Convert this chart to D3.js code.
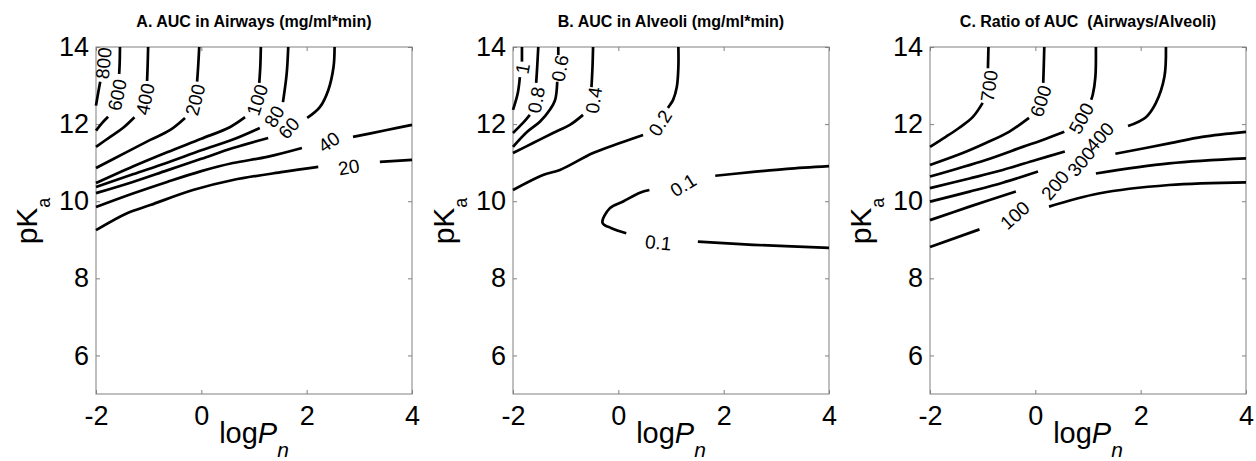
<!DOCTYPE html>
<html>
<head>
<meta charset="utf-8">
<script src="https://cdn.jsdelivr.net/npm/d3@7"></script>
<style>
body { margin: 0; background: #fff; }
text { font-family: "Liberation Sans", Arial, sans-serif; }
</style>
</head>
<body>
<div id="plot"></div>
<script>
// axes
var xDomain = [-2, 4],
    yDomain = [5, 14],
    xTicks = [-2, 0, 2, 4],
    yTicks = [6, 8, 10, 12, 14];

var titles = [
    "A. AUC in Airways (mg/ml*min)",
    "B. AUC in Alveoli (mg/ml*min)",
    "C. Ratio of AUC  (Airways/Alveoli)"
];

// contour lines: [logPn, pKa], broken where the labels sit
var contoursA = [
    {level: "800", segs: [[[-1.92, 13.1], [-1.96, 12.8], [-2, 12.48]]],
        labels: [{at: [-1.86, 13.58], rot: -85}]},
    {level: "600", segs: [[[-1.545, 14], [-1.55, 13.6], [-1.56, 13.3]],
                          [[-1.77, 12.19], [-1.89, 12.02], [-2, 11.83]]],
        labels: [{at: [-1.6, 12.76], rot: -78}]},
    {level: "400", segs: [[[-1.01, 14], [-1.02, 13.5], [-1.03, 13.12]],
                          [[-1.27, 12.18], [-1.49, 11.9], [-1.73, 11.67], [-2, 11.41]]],
        labels: [{at: [-1.07, 12.65], rot: -78}]},
    {level: "200", segs: [[[-0.04, 14], [-0.06, 13.5], [-0.08, 13.1]],
                          [[-0.31, 12.16], [-0.59, 11.85], [-0.97, 11.59], [-1.41, 11.28], [-2, 10.86]]],
        labels: [{at: [-0.12, 12.63], rot: -76}]},
    {level: "100", segs: [[[1.13, 14], [1.12, 13.5], [1.1, 13.07]],
                          [[0.83, 12.18], [0.54, 11.92], [0, 11.62], [-0.65, 11.27], [-1.3, 10.9], [-2, 10.47]]],
        labels: [{at: [1.06, 12.63], rot: -72}]},
    {level: "80", segs: [[[1.65, 14], [1.62, 13.3], [1.55, 12.57]],
                         [[1.11, 11.9], [0.6, 11.6], [0, 11.32], [-0.65, 11.0], [-1.3, 10.7], [-2, 10.37]]],
        labels: [{at: [1.38, 12.2], rot: -60}]},
    {level: "60", segs: [[[2.53, 14], [2.51, 13.48], [2.41, 12.88], [2.25, 12.44], [2.01, 12.16]],
                         [[1.27, 11.64], [0.6, 11.38], [0, 11.1], [-0.65, 10.8], [-1.3, 10.5], [-2, 10.21]]],
        labels: [{at: [1.66, 11.9], rot: -48}]},
    {level: "40", segs: [[[2.88, 11.67], [3.5, 11.84], [4, 11.98]],
                         [[1.91, 11.38], [1.25, 11.15], [0.6, 10.99], [0, 10.78], [-0.65, 10.5], [-1.3, 10.2], [-2, 9.85]]],
        labels: [{at: [2.42, 11.54], rot: -35}]},
    {level: "20", segs: [[[3.39, 11.02], [4, 11.07]],
                         [[2.22, 10.89], [1.55, 10.76], [0.6, 10.55], [-0.16, 10.29], [-0.97, 9.9], [-1.41, 9.69], [-2, 9.25]]],
        labels: [{at: [2.8, 10.89], rot: -10}]}
];

var contoursB = [
    {level: "1", segs: [[[-1.83, 14], [-1.83, 13.62]],
                        [[-1.87, 13.22], [-1.91, 12.8], [-2, 12.37]]],
        labels: [{at: [-1.82, 13.44], rot: -80}]},
    {level: "0.8", segs: [[[-1.52, 14], [-1.54, 13.5], [-1.56, 13.07]],
                          [[-1.68, 12.24], [-1.81, 12.03], [-2, 11.77]]],
        labels: [{at: [-1.56, 12.63], rot: -80}]},
    {level: "0.6", segs: [[[-1.14, 14], [-1.14, 13.79]],
                          [[-1.16, 13.1], [-1.2, 12.63], [-1.3, 12.37], [-1.49, 12.06], [-1.73, 11.8], [-2, 11.41]]],
        labels: [{at: [-1.11, 13.45], rot: -80}]},
    {level: "0.4", segs: [[[-0.48, 14], [-0.49, 13.5], [-0.51, 12.96]],
                          [[-0.67, 12.24], [-0.92, 11.98], [-1.24, 11.77], [-1.62, 11.51], [-2, 11.25]]],
        labels: [{at: [-0.47, 12.62], rot: -82}]},
    {level: "0.2", segs: [[[1.14, 14], [1.14, 13.48], [1.11, 12.96], [1.04, 12.63], [0.94, 12.42]],
                          [[0.47, 11.72], [0.03, 11.51], [-0.48, 11.25], [-1.11, 10.81], [-1.43, 10.68], [-2, 10.29]]],
        labels: [{at: [0.79, 12.03], rot: -58}]},
    {level: "0.1", segs: [[[4, 10.91], [3.2, 10.84], [2.56, 10.76], [1.84, 10.66]],
                          [[0.59, 10.29], [0.41, 10.22], [0.1, 10.0], [-0.16, 9.82], [-0.3, 9.44], [-0.13, 9.3], [0.15, 9.17]],
                          [[1.51, 8.95], [2.56, 8.87], [4, 8.79]]],
        labels: [{at: [1.23, 10.42], rot: -32}, {at: [0.76, 8.93], rot: 6}]}
];

var contoursC = [
    {level: "700", segs: [[[-0.89, 14], [-0.9, 13.45]],
                          [[-1.0, 12.55], [-1.19, 12.18], [-1.45, 11.9], [-1.7, 11.67], [-2, 11.41]]],
        labels: [{at: [-0.88, 12.99], rot: -82}]},
    {level: "600", segs: [[[0.17, 14], [0.16, 13.5], [0.15, 13.07]],
                          [[-0.12, 12.16], [-0.5, 11.8], [-0.94, 11.51], [-1.38, 11.25], [-2, 10.94]]],
        labels: [{at: [0.1, 12.6], rot: -72}]},
    {level: "500", segs: [[[1.15, 14], [1.14, 13.22], [1.09, 12.76], [1.06, 12.63]],
                          [[0.55, 11.8], [0.14, 11.59], [-0.24, 11.41], [-0.94, 11.07], [-2, 10.64]]],
        labels: [{at: [0.87, 12.15], rot: -62}]},
    {level: "400", segs: [[[2.48, 14], [2.45, 13.22], [2.29, 12.55], [2.1, 12.18], [1.76, 11.95]],
                          [[0.56, 11.29], [0.01, 11.07], [-0.62, 10.81], [-1.25, 10.59], [-2, 10.34]]],
        labels: [{at: [1.22, 11.67], rot: -48}]},
    {level: "300", segs: [[[-2, 9.99], [-1.25, 10.25], [-0.62, 10.48], [0.05, 10.77]],
                          [[1.52, 11.23], [2.54, 11.5], [3.17, 11.67], [4, 11.8]]],
        labels: [{at: [0.87, 11.03], rot: -50}]},
    {level: "200", segs: [[[-2, 9.51], [-1.25, 9.86], [-0.37, 10.25]],
                          [[1.15, 10.72], [2.54, 10.98], [4, 11.11]]],
        labels: [{at: [0.37, 10.42], rot: -50}]},
    {level: "100", segs: [[[-2, 8.81], [-1.06, 9.27]],
                          [[0.26, 9.86], [1.2, 10.2], [2.54, 10.42], [4, 10.49]]],
        labels: [{at: [-0.39, 9.64], rot: -42}]}
];

var view = {
    lefts: [96, 513, 930],
    top: 47,
    w: 316,
    h: 347
};

var svg = d3.select("#plot")
            .append("svg")
            .attr("width", 1256)
            .attr("height", 461);

function drawPanel(i, contours) {
    var g = svg.append("g")
               .attr("transform", "translate(" + view.lefts[i] + "," + view.top + ")");

    var xScale = d3.scaleLinear().domain(xDomain).range([0, view.w]),
        yScale = d3.scaleLinear().domain(yDomain).range([view.h, 0]);

    // box ticks: labelled on bottom/left, bare on top/right
    var axes = [
        {axis: d3.axisBottom(xScale).tickValues(xTicks), tr: "translate(0," + view.h + ")", lab: true, pad: 12},
        {axis: d3.axisLeft(yScale).tickValues(yTicks), tr: "translate(0,0)", lab: true, pad: 7},
        {axis: d3.axisTop(xScale).tickValues(xTicks), tr: "translate(0,0)", lab: false, pad: 7},
        {axis: d3.axisRight(yScale).tickValues(yTicks), tr: "translate(" + view.w + ",0)", lab: false, pad: 7}
    ];
    axes.forEach(function(a){
        a.axis.tickSizeInner(-4).tickSizeOuter(0).tickPadding(a.pad)
              .tickFormat(a.lab ? function(d){ return String(d); } : "");
        var ag = g.append("g").attr("transform", a.tr).call(a.axis);
        ag.select(".domain").remove();
        ag.selectAll(".tick line").attr("stroke", "#808080");
        ag.selectAll(".tick text")
          .attr("fill", "#000")
          .style("font-size", "27px")
          .style("font-family", "'Liberation Sans', Arial, sans-serif");
    });

    g.append("rect")
     .attr("x", 0).attr("y", 0)
     .attr("width", view.w).attr("height", view.h)
     .attr("fill", "none")
     .attr("stroke", "#808080")
     .attr("stroke-width", 1);

    var line = d3.line()
                 .x(function(d){ return xScale(d[0]); })
                 .y(function(d){ return yScale(d[1]); })
                 .curve(d3.curveCatmullRom.alpha(0.5));

    contours.forEach(function(c){
        g.selectAll(null)
         .data(c.segs)
         .enter().append("path")
         .attr("d", line)
         .attr("fill", "none")
         .attr("stroke", "#000")
         .attr("stroke-width", 2.7);

        g.selectAll(null)
         .data(c.labels)
         .enter().append("text")
         .attr("transform", function(d){
             return "translate(" + xScale(d.at[0]) + "," + yScale(d.at[1]) + ") rotate(" + d.rot + ")";
         })
         .attr("text-anchor", "middle")
         .attr("dy", "0.36em")
         .style("font-size", "19px")
         .text(c.level);
    });

    // title
    svg.append("text")
       .attr("x", view.lefts[i] + view.w / 2)
       .attr("y", 27)
       .attr("text-anchor", "middle")
       .style("font-size", "16px")
       .style("font-weight", "bold")
       .style("white-space", "pre")
       .text(titles[i]);

    // x label: log P_n
    var xl = svg.append("text")
                .attr("x", view.lefts[i] + view.w / 2)
                .attr("y", 443)
                .attr("text-anchor", "middle")
                .style("font-size", "29px");
    xl.append("tspan").text("log");
    xl.append("tspan").style("font-style", "italic").text("P");
    xl.append("tspan").style("font-style", "italic").style("font-size", "21px")
      .attr("dy", 14).text("n");

    // y label: pK_a
    var yl = svg.append("text")
                .attr("transform", "translate(" + (view.lefts[i] - 59) + ",221) rotate(-90)")
                .attr("text-anchor", "middle")
                .style("font-size", "30px");
    yl.append("tspan").text("pK");
    yl.append("tspan").style("font-size", "18px").attr("dy", 13).text("a");
}

drawPanel(0, contoursA);
drawPanel(1, contoursB);
drawPanel(2, contoursC);
</script>
</body>
</html>
